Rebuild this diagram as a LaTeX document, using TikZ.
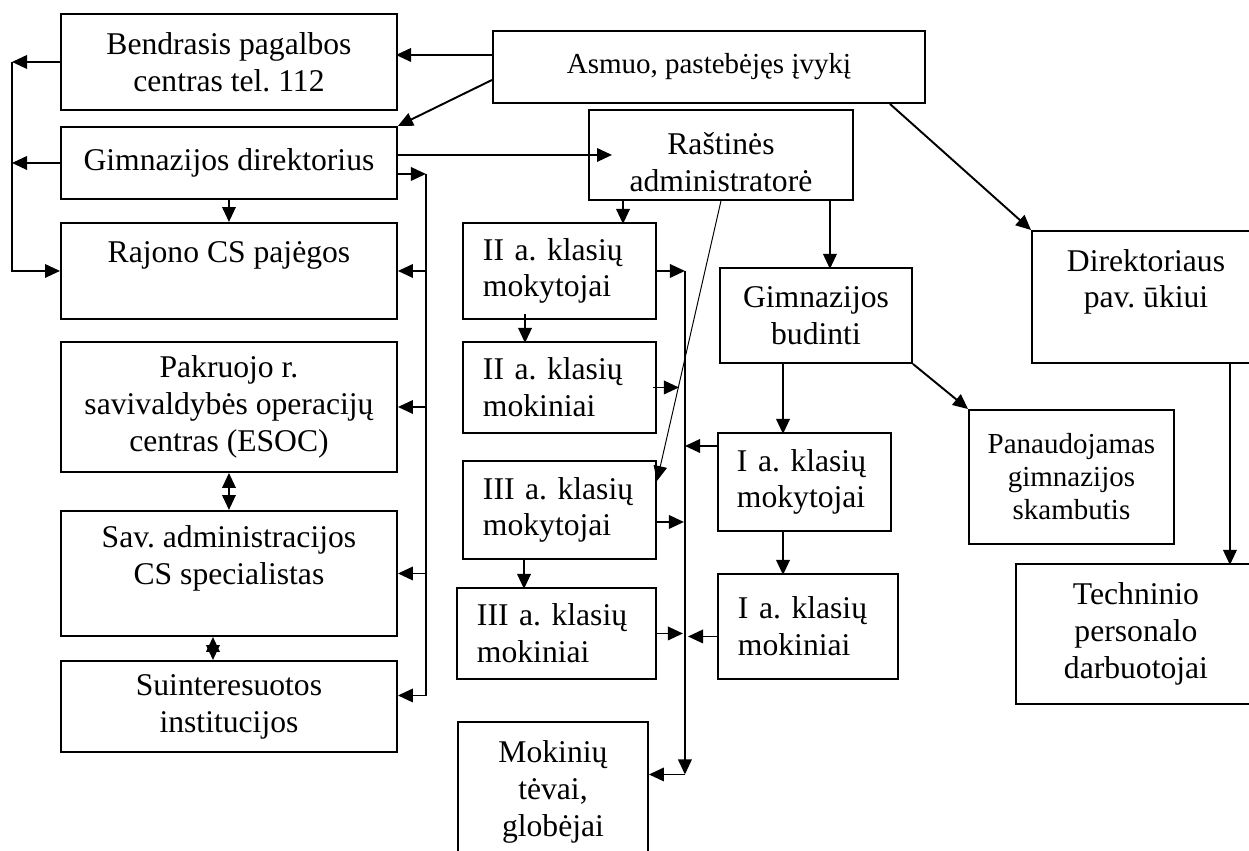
\documentclass[tikz,border=0pt]{standalone}
\usepackage{fontspec}
\setmainfont{Liberation Serif}
\usetikzlibrary{arrows.meta}

\begin{document}
\frenchspacing
\begin{tikzpicture}[
    box/.style={draw, line width=1.1pt, anchor=north west, align=center, inner sep=0pt,
                font=\fontsize{18}{21}\selectfont},
    lbox/.style={box, align=left},
    arr/.style={line width=1.1pt, -{Triangle[length=0.3cm,width=0.27cm]}},
    darr/.style={line width=1.1pt, {Triangle[length=0.3cm,width=0.27cm]}-{Triangle[length=0.3cm,width=0.27cm]}},
    slant/.style={line width=0.55pt, -{Triangle[length=0.3cm,width=0.27cm]}}
]
    \useasboundingbox (0,0) rectangle (24.98,-17);

    % left column
    \node[box, minimum width=6.72cm, minimum height=1.92cm] (bendr) at (1.2,-0.26) {Bendrasis pagalbos\\centras tel. 112};
    \node[box, minimum width=6.72cm, minimum height=1.44cm] (dir) at (1.2,-2.52) {Gimnazijos direktorius};
    \node[box, minimum width=6.72cm, minimum height=1.92cm] (rajono) at (1.2,-4.44) {Rajono CS pajėgos\\ \mbox{}};
    \node[box, minimum width=6.72cm, minimum height=2.6cm] (pakr) at (1.2,-6.82) {Pakruojo r.\\savivaldybės operacijų\\centras (ESOC)};
    \node[box, minimum width=6.72cm, minimum height=2.5cm] (sav) at (1.2,-10.2) {Sav. administracijos\\CS specialistas\\ \mbox{}};
    \node[box, minimum width=6.72cm, minimum height=1.82cm] (suint) at (1.2,-13.2) {Suinteresuotos\\institucijos};

    % middle
    \node[box, minimum width=8.64cm, minimum height=1.44cm, font=\fontsize{16.5}{19}\selectfont] (asmuo) at (9.84,-0.6) {Asmuo, pastebėjęs įvykį};
    \node[box, minimum width=5.28cm, minimum height=1.8cm, text height=1.46cm] (rast) at (11.76,-2.18) {Raštinės\\administratorė};
    \node[lbox, text width=3.06cm, minimum width=3.86cm, minimum height=1.92cm] (IImok) at (9.24,-4.44) {II a. klasių\\mokytojai};
    \node[lbox, text width=3.06cm, minimum width=3.86cm, minimum height=1.82cm] (IIkl) at (9.24,-6.82) {II a. klasių\\mokiniai};
    \node[lbox, text width=3.06cm, minimum width=3.86cm, minimum height=1.96cm] (IIImok) at (9.24,-9.2) {III a. klasių\\mokytojai};
    \node[lbox, text width=3.18cm, minimum width=3.98cm, minimum height=1.82cm] (IIIkl) at (9.12,-11.74) {III a. klasių\\mokiniai};
    \node[box, minimum width=3.8cm, minimum height=2.8cm] (tevai) at (9.14,-14.42) {Mokinių\\tėvai,\\globėjai};
    \node[box, minimum width=3.84cm, minimum height=1.9cm] (budinti) at (14.38,-5.34) {Gimnazijos\\budinti};
    \node[lbox, text width=2.7cm, minimum width=3.46cm, minimum height=1.96cm] (Imok) at (14.34,-8.64) {I a. klasių\\mokytojai};
    \node[lbox, text width=2.8cm, minimum width=3.6cm, minimum height=2.1cm] (Ikl) at (14.34,-11.46) {I a. klasių\\mokiniai};

    % right
    \node[box, minimum width=4.1cm, minimum height=2.68cm, font=\fontsize{16.5}{18.8}\selectfont] (pan) at (19.36,-8.18) {Panaudojamas\\gimnazijos\\skambutis};
    \node[box, minimum width=4.56cm, minimum height=2.64cm] (pav) at (20.62,-4.6) {Direktoriaus\\pav. ūkiui\\ \mbox{}};
    \node[box, minimum width=4.8cm, minimum height=2.8cm] (tech) at (20.3,-11.26) {Techninio\\personalo\\darbuotojai};

    % Asmuo
    \draw[arr] ([yshift=0.24cm]asmuo.west) -- ++(-1.92,0);
    \draw[arr] ([yshift=-0.26cm]asmuo.west) -- (dir.north east);
    \draw[arr] ([xshift=-0.72cm]asmuo.south east) -- (pav.north west);

    % left bus
    \draw[arr] (bendr.west) -- ++(-0.96,0) coordinate (lbus);
    \draw[arr] (dir.west) -- (dir.west -| lbus);
    \draw[arr] (lbus) |- (rajono.west);

    % right bus of the left column
    \draw[arr] ([yshift=-0.22cm]dir.east) -- ++(0.56,0) coordinate (rbus);
    \foreach \n in {rajono,pakr,sav}
        \draw[arr] (rbus |- \n.east) -- (\n.east);
    \draw[arr] (rbus) |- ([yshift=0.22cm]suint.east);
    \draw[arr] (dir.south) -- (rajono.north);
    \draw[darr] (pakr.south) -- (sav.north);
    \draw[darr] ([xshift=-0.32cm]sav.south) -- ([xshift=-0.32cm]suint.north);

    % Rastines
    \draw[arr] (dir.east |- rast.west) -- ([xshift=0.48cm]rast.west);
    \draw[arr] ([xshift=0.7cm]rast.south west) -- ++(0,-0.46);
    \draw[arr] ([xshift=-0.48cm]rast.south east) -- ++(0,-1.36);
    \draw[slant] (rast.south) -- ([yshift=0.58cm]IIImok.east);

    % middle bus
    \draw[arr] (IImok.east) -- ++(0.56,0) coordinate (mbus);
    \coordinate (tevaiin) at ([yshift=0.35cm]tevai.east);
    \draw[arr] (mbus) -- (mbus |- tevaiin);
    \draw[arr] (mbus |- tevaiin) -- (tevaiin);
    \draw[arr] ([xshift=-0.08cm]IIkl.east) -- ++(0.52,0);
    \draw[arr] ([yshift=-0.24cm]IIImok.east) -- ++(0.54,0);
    \draw[arr] (IIIkl.east) -- ++(0.52,0);
    \draw[arr] ([yshift=0.72cm]Imok.west) -- ++(-0.64,0);
    \draw[arr] ([yshift=-0.2cm]Ikl.west) -- ++(-0.58,0);
    \draw[arr] ([xshift=1.26cm,yshift=0.12cm]IImok.south west) -- ++(0,-0.58);
    \draw[arr] ([xshift=1.24cm]IIImok.south west) -- ++(0,-0.58);

    % budinti
    \draw[arr] ([xshift=1.28cm]budinti.south west) -- ++(0,-1.4);
    \draw[arr] ([xshift=1.32cm]Imok.south west) -- ++(0,-0.86);
    \draw[arr] (budinti.south east) -- (pan.north west);
    \draw[arr] ([xshift=-0.62cm]pav.south east) -- ++(0,-4.02);
\end{tikzpicture}
\end{document}
